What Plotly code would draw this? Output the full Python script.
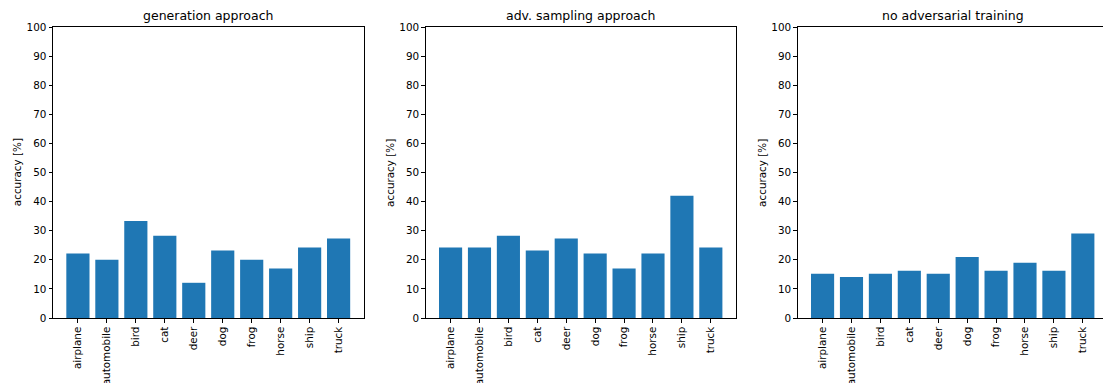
import plotly.graph_objects as go

categories = ["airplane", "automobile", "bird", "cat", "deer", "dog", "frog", "horse", "ship", "truck"]
generation = [22.2, 20.0, 33.3, 28.3, 12.1, 23.2, 20.0, 17.0, 24.2, 27.3]
adv_sampling = [24.2, 24.2, 28.3, 23.2, 27.3, 22.2, 17.0, 22.2, 42.0, 24.2]
no_adv = [15.2, 14.1, 15.2, 16.2, 15.2, 21.0, 16.2, 19.0, 16.2, 29.0]
titles = ["generation approach", "adv. sampling approach", "no adversarial training"]
y_ticks = list(range(0, 101, 10))
ylabel = "accuracy [%]"

W, H = 1103, 383
panels = [(53.0, 363.5), (425.7, 735.7), (797.7, 1103.0)]
series = [generation, adv_sampling, no_adv]
color = "#1f77b4"
font_family = "DejaVu Sans"
TICK = 10.4
TITLE = 12.5

fig = go.Figure()
annotations = []
for i, (vals, (x0, x1), title) in enumerate(zip(series, panels, titles)):
    idx = "" if i == 0 else str(i + 1)
    fig.add_trace(go.Bar(x=categories, y=vals, marker=dict(color=color, line=dict(width=0)),
                         xaxis="x" + idx, yaxis="y" + idx, showlegend=False))
    last = i == 2
    xr = [-0.86, 9.86] if not last else [-0.86, -0.86 + (x1 - x0) / (310.0 / 10.72)]
    fig.update_layout({
        "xaxis" + idx: dict(domain=[x0 / W, x1 / W], range=xr, type="category",
                            tickangle=-90, ticks="outside", ticklen=3.5, tickwidth=1,
                            tickcolor="black", showline=True, linecolor="black", linewidth=1,
                            mirror=True, showgrid=False, zeroline=False, ticklabelstandoff=0,
                            automargin=False,
                            tickfont=dict(size=TICK, color="black", family=font_family),
                            anchor="y" + idx, fixedrange=True),
        "yaxis" + idx: dict(domain=[0, 1], range=[0, 100], tickvals=y_ticks,
                            ticks="outside", ticklen=3.5, tickwidth=1, tickcolor="black",
                            showline=True, linecolor="black", linewidth=1,
                            mirror=(not last), showgrid=False, zeroline=False,
                            automargin=False,
                            tickfont=dict(size=TICK, color="black", family=font_family),
                            anchor="x" + idx, fixedrange=True),
    })
    annotations.append(dict(text=title, x=(x0 + 155) / W,
                            y=1, xref="paper", yref="paper", xanchor="center", yanchor="bottom",
                            yshift=2, showarrow=False,
                            font=dict(size=TITLE, color="black", family=font_family)))
    annotations.append(dict(text=ylabel, x=(x0 - 36.3) / W, y=0.5, xref="paper", yref="paper",
                            xanchor="center", yanchor="middle", textangle=-90, showarrow=False,
                            font=dict(size=TICK, color="black", family=font_family)))

fig.update_layout(width=W, height=H, margin=dict(l=0, r=0, t=27, b=65, autoexpand=False),
                  paper_bgcolor="white", plot_bgcolor="white", bargap=0.2,
                  annotations=annotations, font=dict(family=font_family))
fig.write_html("out.html")
